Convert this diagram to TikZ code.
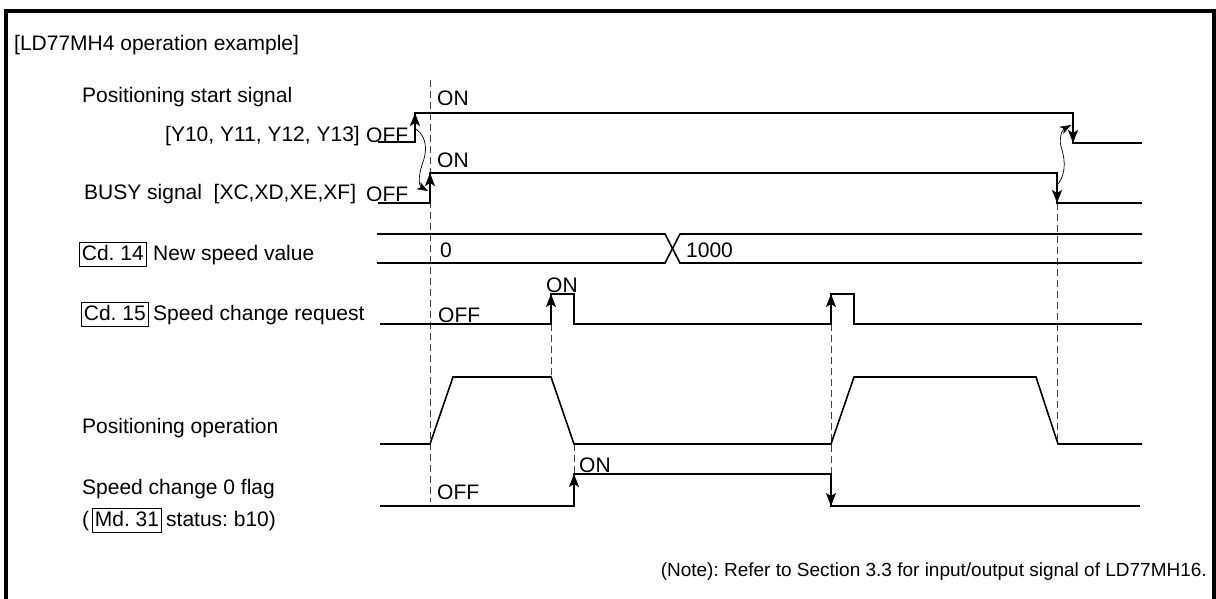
\documentclass[tikz,border=0pt]{standalone}
\usepackage{fontspec}
\setmainfont{Liberation Sans}
\usetikzlibrary{arrows.meta}
\frenchspacing
\begin{document}
\begin{tikzpicture}[x=1pt,y=-1pt,
  txt/.style={font=\fontsize{21}{24}\selectfont, inner sep=0pt},
  wave/.style={line width=1.6pt, line join=miter},
  guide/.style={dash pattern=on 7pt off 4pt, line width=0.9pt, black!75},
  edgearr/.style={line width=1.6pt, -{Stealth[length=13pt,width=10pt,inset=3pt]}},
  causal/.style={line width=0.7pt, -{Stealth[length=11pt,width=8pt,inset=3pt]}},
  tag/.style={draw, line width=0.8pt, inner xsep=2.5pt, inner ysep=2.5pt, text height=15pt, text depth=4pt}
]
\useasboundingbox (0,0) rectangle (1216,598);
\draw[line width=3.7pt] (6,610) -- (6,10.7) -- (1213.8,10.7) -- (1213.8,610);

% labels
\node[txt, anchor=base west] (title) at (14,50) {[LD77MH4 operation example]};
\node[txt, anchor=base west] (pss) at (82,102) {Positioning start signal};
\node[txt, anchor=base east] (pssy) at (360,141) {[Y10, Y11, Y12, Y13]};
\node[txt, anchor=base west] (pssoff) at (366,142) {OFF};
\node[txt, anchor=base west] (psson) at (437,105) {ON};
\node[txt, anchor=base west] (busy) at (84,199) {BUSY signal\ \ [XC,XD,XE,XF]};
\node[txt, anchor=base west] (busyoff) at (366,201) {OFF};
\node[txt, anchor=base west] (busyon) at (437,167) {ON};

\node[txt, tag, anchor=base west] (cd14) at (79,260) {Cd. 14};
\node[txt, anchor=base west] (nsv) at (153,260) {New speed value};
\node[txt, anchor=base west] (v0) at (440,257) {0};
\node[txt, anchor=base west] (v1000) at (686,257) {1000};

\node[txt, tag, anchor=base west] (cd15) at (81,320) {Cd. 15};
\node[txt, anchor=base west] (scr) at (153,320) {Speed change request};
\node[txt, anchor=base west] (scron) at (546,292) {ON};
\node[txt, anchor=base west] (scroff) at (438,322) {OFF};

\node[txt, anchor=base west] (posop) at (82,433) {Positioning operation};

\node[txt, anchor=base west] (flag) at (82,494) {Speed change 0 flag};
\node[txt, anchor=base west] (paren) at (82,526) {(};
\node[txt, tag, anchor=base west] (md31) at (92,526) {Md. 31};
\node[txt, anchor=base west] (stat) at (166,526) {status: b10)};
\node[txt, anchor=base west] (flagon) at (579,472) {ON};
\node[txt, anchor=base west] (flagoff) at (437,499) {OFF};

\node[txt, font=\fontsize{19}{22}\selectfont, anchor=base east] (note) at (1207,576) {(Note): Refer to Section 3.3 for input/output signal of LD77MH16.};

% guide lines
\draw[guide] (430,80) -- (430,502);
\draw[guide] (551,324) -- (551,377);
\draw[guide] (574,444) -- (574,474);
\draw[guide] (831,324) -- (831,474);
\draw[guide] (1057,203) -- (1057,444);

% waveforms
\draw[wave] (378,142) -- (415,142) -- (415,113) -- (1073,113) -- (1073,143) -- (1142,143);
\draw[edgearr] (415,142) -- (415,113);
\draw[edgearr] (1073,113) -- (1073,143);

\draw[wave] (378,203) -- (430,203) -- (430,173) -- (1057,173) -- (1057,203) -- (1142,203);
\draw[edgearr] (430,203) -- (430,173);
\draw[edgearr] (1057,173) -- (1057,203);

\draw[wave] (377,234) -- (665,234) -- (680,263) -- (1142,263);
\draw[wave] (377,263) -- (665,263) -- (680,234) -- (1142,234);

\draw[wave] (380,324) -- (551,324) -- (551,294) -- (574,294) -- (574,324) -- (831,324) -- (831,294) -- (854,294) -- (854,324) -- (1142,324);
\draw[edgearr] (551,324) -- (551,294);
\draw[edgearr] (831,324) -- (831,294);

\draw[wave] (380,444) -- (430,444) -- (453,377) -- (551,377) -- (574,444) -- (831,444) -- (854,377) -- (1036,377) -- (1058,444) -- (1142,444);

\draw[wave] (380,506) -- (574,506) -- (574,474) -- (831,474) -- (831,506) -- (1140,506);
\draw[edgearr] (574,506) -- (574,474);
\draw[edgearr] (831,474) -- (831,506);

% causal arrows
\coordinate (c1s) at (416,129);
\coordinate (c1e) at (428,191);
\coordinate (c2s) at (1058,184);
\coordinate (c2e) at (1071,125);
\draw[causal] (c1s) .. controls (428,138) and (427,152) .. (422,165) .. controls (418,177) and (419,186) .. (c1e);
\draw[causal] (c2s) .. controls (1066,174) and (1065,160) .. (1062,150) .. controls (1058,139) and (1062,130) .. (c2e);
\end{tikzpicture}
\end{document}
